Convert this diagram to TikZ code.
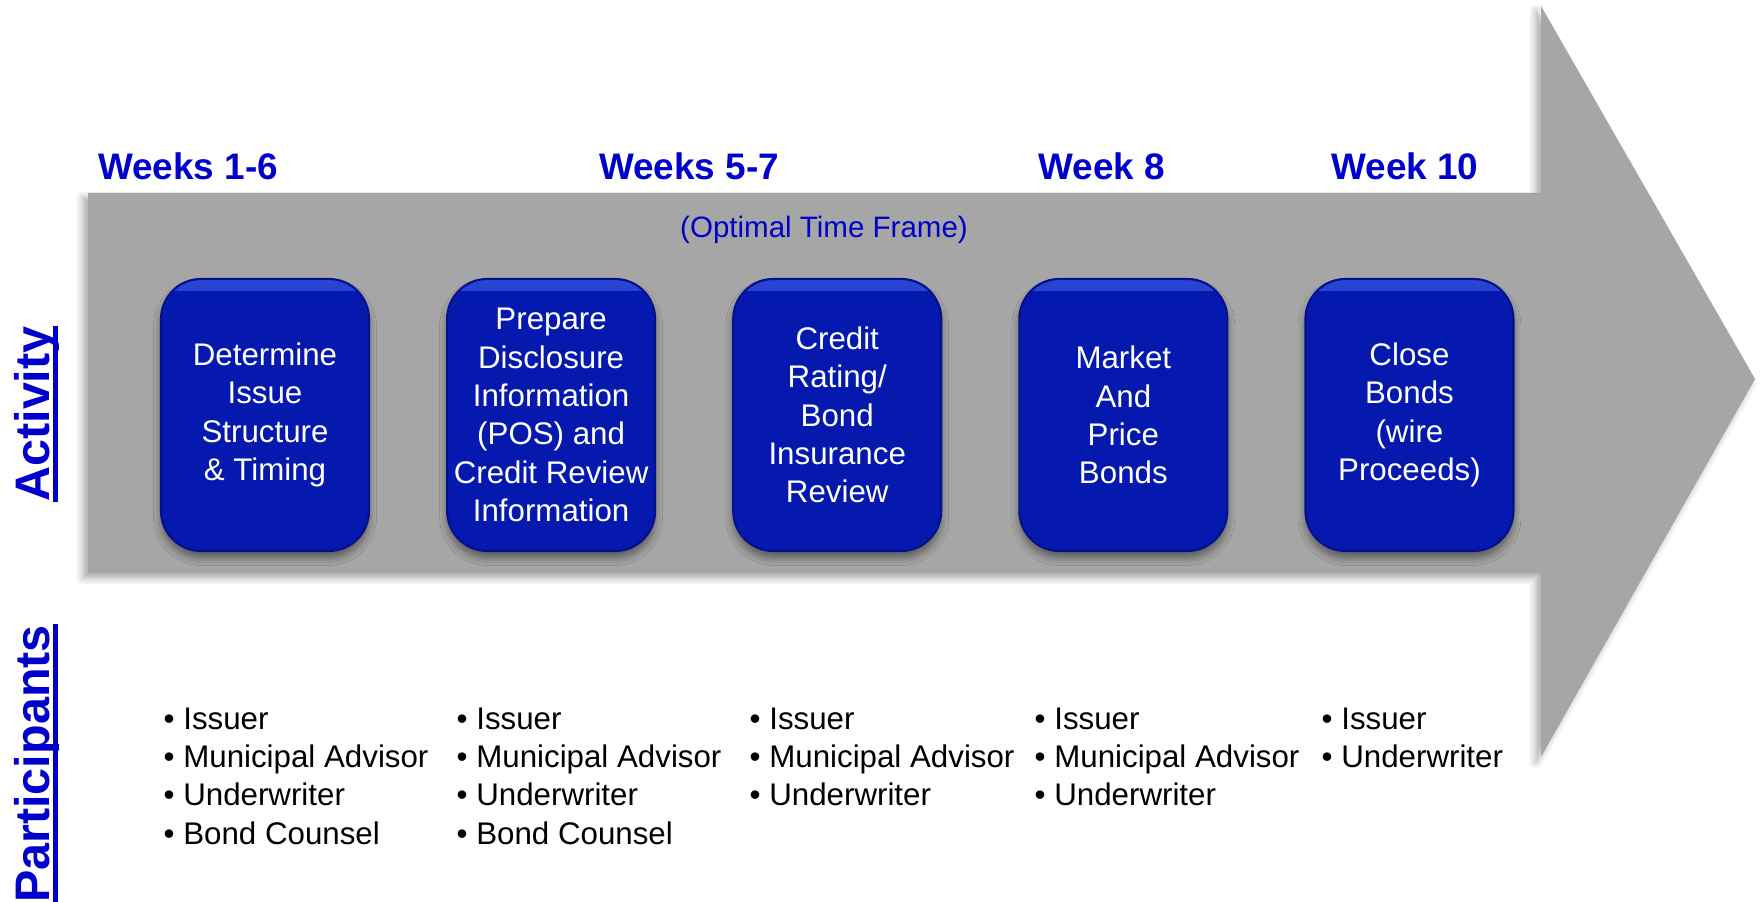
\documentclass[tikz,border=0pt]{standalone}
\usepackage{fontspec}
\setmainfont{Liberation Sans}
\usetikzlibrary{positioning, shadows.blur}

\definecolor{bandgray}{HTML}{A6A6A6}
\definecolor{weekblue}{HTML}{0000CC}
\definecolor{boxblue}{HTML}{0519AF}
\definecolor{boxlight}{HTML}{2A45D4}
\definecolor{boxedge}{HTML}{04118A}

\begin{document}
\begin{tikzpicture}[
    week/.style={font=\fontsize{10.5}{12}\selectfont\bfseries, text=weekblue},
    task/.style={draw=boxedge, line width=0.6pt, fill=boxblue,
      rounded corners=0.4cm, minimum width=2.08cm, minimum height=2.72cm,
      inner sep=1pt, align=center, text=white,
      font=\fontsize{8.9}{10.9}\selectfont,
      blur shadow={shadow xshift=0pt, shadow yshift=-0.07cm,
        shadow blur steps=6, shadow opacity=45},
      path picture={\shade[sharp corners, top color=boxlight, bottom color=boxblue]
        (path picture bounding box.north west) rectangle
        ([yshift=-0.12cm]path picture bounding box.north east);}},
    who/.style={anchor=north west, inner sep=0pt, align=left,
      font=\fontsize{8.9}{10.9}\selectfont},
    side/.style={rotate=90, anchor=base, inner sep=0pt,
      font=\fontsize{13.8}{16}\selectfont\bfseries, text=weekblue}
  ]
  \useasboundingbox (0,0) rectangle (17.62,9.01);

  % ---- big arrow ----
  \fill[bandgray, blur shadow={shadow xshift=-0.05cm, shadow yshift=-0.05cm,
      shadow blur steps=6, shadow opacity=35}]
    (0.88,7.08) -- (15.41,7.08) -- (15.41,8.95) -- (17.55,5.22)
    -- (15.41,1.44) -- (15.41,3.28) -- (0.88,3.28) -- cycle;

  % ---- time frame ----
  \node[week] (w16)  at (1.88,7.35)  {Weeks 1-6};
  \node[week] (w57)  at (6.89,7.35)  {Weeks 5-7};
  \node[week] (w8)   at (11.02,7.35) {Week 8};
  \node[week] (w10)  at (14.05,7.35) {Week 10};
  \node[text=weekblue, font=\fontsize{8.4}{10}\selectfont] (optimal) at (8.24,6.71)
    {(Optimal Time Frame)};

  % ---- activities ----
  \node[task] (determine) at (2.65,4.86) {Determine\\Issue\\Structure\\\& Timing};
  \node[task, right=0.76cm of determine] (prepare)
    {Prepare\\Disclosure\\Information\\(POS) and\\Credit Review\\Information};
  \node[task, right=0.76cm of prepare] (rating)
    {Credit\\Rating/\\Bond\\Insurance\\Review};
  \node[task, right=0.76cm of rating] (market) {Market\\And\\Price\\Bonds};
  \node[task, right=0.76cm of market] (close) {Close\\Bonds\\(wire\\Proceeds)};

  % ---- participants ----
  \node[who] (pdetermine) at (1.63,1.94)
    {\textbullet{} Issuer\\\textbullet{} Municipal Advisor\\\textbullet{} Underwriter\\\textbullet{} Bond Counsel};
  \node[who] (pprepare) at (4.56,1.94)
    {\textbullet{} Issuer\\\textbullet{} Municipal Advisor\\\textbullet{} Underwriter\\\textbullet{} Bond Counsel};
  \node[who] (prating) at (7.49,1.94)
    {\textbullet{} Issuer\\\textbullet{} Municipal Advisor\\\textbullet{} Underwriter};
  \node[who] (pmarket) at (10.34,1.94)
    {\textbullet{} Issuer\\\textbullet{} Municipal Advisor\\\textbullet{} Underwriter};
  \node[who] (pclose) at (13.21,1.94)
    {\textbullet{} Issuer\\\textbullet{} Underwriter};

  % ---- row headings ----
  \node[side] (activity) at (0.50,4.87) {Activity};
  \node[side] (participants) at (0.50,1.37) {Participants};
  \draw[weekblue, line width=1.3pt]
    ([xshift=0.055cm]activity.base west) -- ([xshift=0.055cm]activity.base east);
  \draw[weekblue, line width=1.3pt]
    ([xshift=0.055cm]participants.base west) -- ([xshift=0.055cm]participants.base east);
\end{tikzpicture}
\end{document}
